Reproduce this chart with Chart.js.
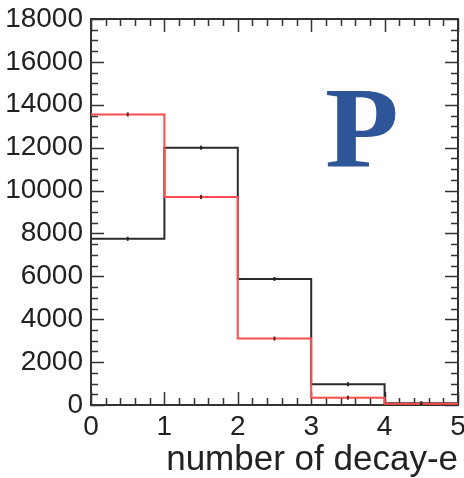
<!DOCTYPE html>
<html>
<head>
<meta charset="utf-8">
<script src="https://cdn.jsdelivr.net/npm/chart.js@4/dist/chart.umd.min.js"></script>
<style>
  html, body { margin: 0; padding: 0; background: #fff; }
  #wrap { position: relative; width: 464px; height: 478px; }
  #decayChart { display: block; }
  #tag {
    position: absolute; left: 325px; top: 71px;
    font-family: 'Liberation Serif', 'Times New Roman', serif;
    font-weight: bold; font-size: 114px; line-height: 1;
    color: #2d5597;
    transform: scaleX(1.06); transform-origin: left top;
  }
</style>
</head>
<body>
<div id="wrap">
  <canvas id="decayChart" width="464" height="478"></canvas>
  <div id="tag">P</div>
</div>
<script>
// bin edges along the x axis (number of decay electrons)
const binEdges = [0, 1, 2, 3, 4, 5];
// counts per bin
const blackCounts = [7750, 12000, 5880, 970, 80];
const redCounts = [13550, 9700, 3100, 340, 60];
// axis tick values
const xTicks = [0, 1, 2, 3, 4, 5];
const yTicks = [0, 2000, 4000, 6000, 8000, 10000, 12000, 14000, 16000, 18000];
const xTitle = 'number of decay-e';

const FONT = "'Liberation Sans', Arial, Helvetica, sans-serif";

// step points: each bin value holds from its left edge to the next edge
function stepPoints(counts) {
    const pts = counts.map((v, i) => ({ x: binEdges[i], y: v }));
    pts.push({ x: binEdges[binEdges.length - 1], y: counts[counts.length - 1] });
    return pts;
}

function centerPoints(counts) {
    return counts.map((v, i) => ({ x: (binEdges[i] + binEdges[i + 1]) / 2, y: v }));
}

// frame box with inward ticks on all four sides
const frameTicks = {
    id: 'frameTicks',
    beforeDatasetsDraw(chart) {
        const { ctx, chartArea: a, scales: { x, y } } = chart;
        ctx.save();
        ctx.strokeStyle = '#333';
        ctx.lineWidth = 1.5;
        ctx.beginPath();
        // x ticks: minor every 0.2, major on integers
        for (let k = 0; k <= 25; k++) {
            const v = k * 0.2;
            const px = Math.round(x.getPixelForValue(v)) + 0.5;
            const len = (k % 5 === 0) ? 13 : 7;
            ctx.moveTo(px, a.bottom); ctx.lineTo(px, a.bottom - len);
            ctx.moveTo(px, a.top); ctx.lineTo(px, a.top + len);
        }
        // y ticks: minor every 500, major every 2000
        for (let v = 0; v <= 18000; v += 500) {
            const py = Math.round(y.getPixelForValue(v)) + 0.5;
            const len = (v % 2000 === 0) ? 13 : 7;
            ctx.moveTo(a.left, py); ctx.lineTo(a.left + len, py);
            ctx.moveTo(a.right, py); ctx.lineTo(a.right - len, py);
        }
        ctx.stroke();
        ctx.lineWidth = 2;
        ctx.strokeRect(a.left, a.top, a.right - a.left, a.bottom - a.top);
        ctx.restore();
    }
};

new Chart(document.getElementById('decayChart'), {
    type: 'line',
    data: {
        datasets: [{
            label: 'black',
            data: stepPoints(blackCounts),
            stepped: 'before',
            borderColor: '#2b2b2b',
            borderWidth: 2,
            pointRadius: 0,
            fill: false,
            order: 3
        }, {
            label: 'red',
            data: stepPoints(redCounts),
            stepped: 'before',
            borderColor: '#ff4d4d',
            borderWidth: 2,
            pointRadius: 0,
            fill: false,
            order: 2
        }, {
            type: 'scatter',
            label: 'black centers',
            data: centerPoints(blackCounts),
            pointStyle: 'line',
            rotation: 90,
            radius: 2,
            borderColor: '#222',
            borderWidth: 2,
            order: 1
        }, {
            type: 'scatter',
            label: 'red centers',
            data: centerPoints(redCounts),
            pointStyle: 'line',
            rotation: 90,
            radius: 2,
            borderColor: '#552222',
            borderWidth: 2,
            order: 1
        }]
    },
    options: {
        responsive: false,
        animation: false,
        events: [],
        layout: { padding: { left: 0, right: 6, top: 19, bottom: 0 } },
        plugins: {
            legend: { display: false },
            tooltip: { enabled: false }
        },
        scales: {
            x: {
                type: 'linear',
                min: 0,
                max: 5,
                afterBuildTicks: (scale) => { scale.ticks = xTicks.map(v => ({ value: v })); },
                afterFit: (scale) => {
                    scale.height = 73;
                    scale.paddingLeft = 0;
                    scale.paddingRight = 0;
                },
                grid: { display: false, drawTicks: false },
                border: { display: false },
                ticks: {
                    color: '#222',
                    padding: 5,
                    maxRotation: 0,
                    callback: (v) => String(v),
                    font: { family: FONT, size: 28 }
                },
                title: {
                    display: true,
                    text: xTitle,
                    align: 'end',
                    color: '#222',
                    padding: { top: 0, bottom: -3 },
                    font: { family: FONT, size: 35 }
                }
            },
            y: {
                min: 0,
                max: 18000,
                afterBuildTicks: (scale) => { scale.ticks = yTicks.map(v => ({ value: v })); },
                afterFit: (scale) => {
                    scale.width = 91;
                    scale.paddingTop = 0;
                    scale.paddingBottom = 0;
                },
                grid: { display: false, drawTicks: false },
                border: { display: false },
                ticks: {
                    color: '#222',
                    padding: 8,
                    callback: (v) => String(v),
                    font: { family: FONT, size: 28 }
                }
            }
        }
    },
    plugins: [frameTicks]
});
</script>
</body>
</html>
